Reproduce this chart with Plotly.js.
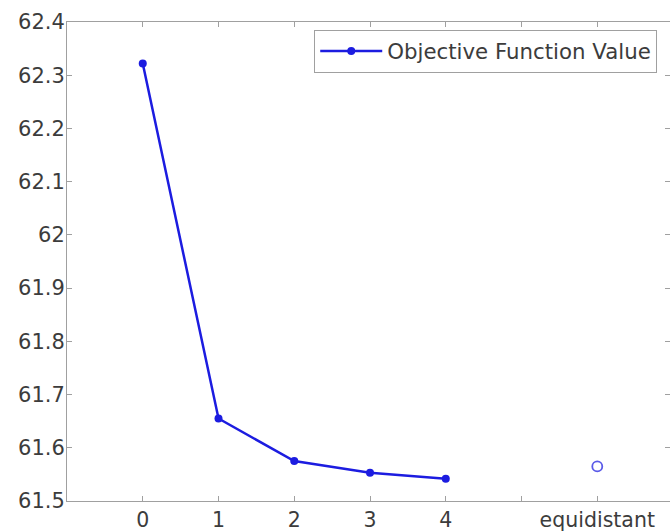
<!DOCTYPE html>
<html>
<head>
<meta charset="utf-8">
<script src="https://cdn.plot.ly/plotly-3.0.1.min.js"></script>
<style>html,body{margin:0;padding:0;background:#fff;}#chart{width:670px;height:531px;}</style>
</head>
<body>
<div id="chart"></div>
<script>
// Data
const iterations = [0, 1, 2, 3, 4];
const objectiveValues = [62.322, 61.655, 61.575, 61.553, 61.542];
const equidistantX = [6];
const equidistantValue = [61.565];
const xTickVals = [0, 1, 2, 3, 4, 5, 6];
const xTickText = ["0", "1", "2", "3", "4", "", "equidistant"];
const yTickVals = [61.5, 61.6, 61.7, 61.8, 61.9, 62, 62.1, 62.2, 62.3, 62.4];
const yTickText = ["61.5", "61.6", "61.7", "61.8", "61.9", "62", "62.1", "62.2", "62.3", "62.4"];
const seriesName = "Objective Function Value";

const blue = "#1c1ce0";
const axisGray = "#a0a0a0";
const textGray = "#3c3c3c";

const traces = [
  {
    x: iterations, y: objectiveValues, type: "scatter", mode: "lines+markers",
    name: seriesName,
    line: {color: blue, width: 2.5},
    marker: {color: blue, size: 8, symbol: "circle"}
  },
  {
    x: equidistantX, y: equidistantValue, type: "scatter", mode: "markers",
    showlegend: false,
    marker: {color: "#5a5ae8", size: 10, symbol: "circle-open", line: {color: "#5a5ae8", width: 1.8}}
  }
];

const layout = {
  width: 670, height: 531,
  margin: {l: 66.7, r: 0, t: 21.7, b: 30.3, pad: 0},
  paper_bgcolor: "#ffffff", plot_bgcolor: "#ffffff",
  font: {family: "DejaVu Sans", size: 20, color: textGray},
  xaxis: {
    range: [-1, 6.96], tickmode: "array", tickvals: xTickVals, ticktext: xTickText,
    showgrid: false, zeroline: false, showline: true, linecolor: axisGray, linewidth: 1,
    mirror: "ticks", ticks: "inside", ticklen: 5, tickcolor: axisGray,
    tickfont: {family: "DejaVu Sans", size: 20.5, color: textGray}
  },
  yaxis: {
    range: [61.5, 62.4], tickmode: "array", tickvals: yTickVals, ticktext: yTickText,
    showgrid: false, zeroline: false, showline: true, linecolor: axisGray, linewidth: 1,
    mirror: "ticks", ticks: "inside", ticklen: 5, tickcolor: axisGray,
    ticklabelstandoff: -3,
    tickfont: {family: "DejaVu Sans", size: 21, color: textGray}
  },
  showlegend: true,
  legend: {
    x: 0.41, xanchor: "left", y: 0.984, yanchor: "top",
    bgcolor: "#ffffff", bordercolor: "#a0a0a0", borderwidth: 1,
    itemwidth: 62,
    font: {family: "DejaVu Sans", size: 21.3, color: textGray}
  }
};

Plotly.newPlot("chart", traces, layout, {displayModeBar: false, staticPlot: true});
</script>
</body>
</html>
